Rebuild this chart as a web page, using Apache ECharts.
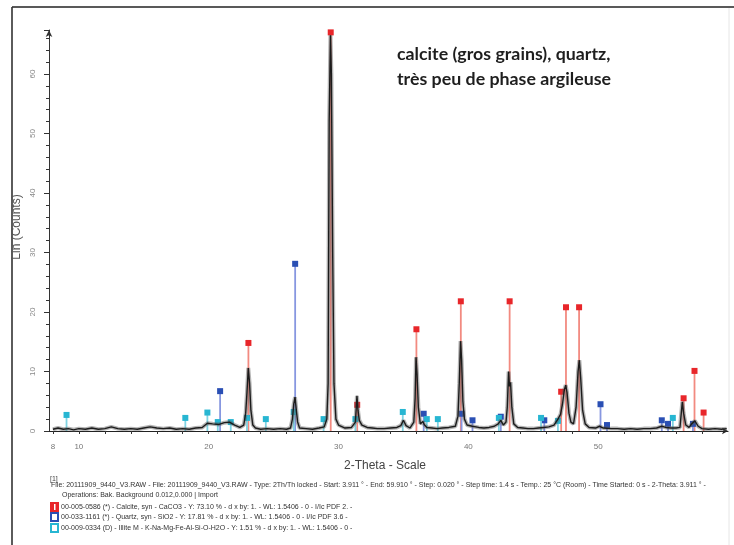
<!DOCTYPE html>
<html>
<head>
<meta charset="utf-8">
<script src="https://cdn.jsdelivr.net/npm/echarts@6.0.0/dist/echarts.min.js"></script>
<style>html,body{margin:0;padding:0;background:#fff}#c{width:734px;height:545px}</style>
</head>
<body>
<div id="c"></div>
<script>
// Measured diffraction pattern (2-Theta, counts)
const patternTheta = [8.0,8.4,8.8,9.2,9.6,10.0,10.5,11.0,11.5,12.0,12.5,13.0,13.5,14.0,14.5,15.0,15.5,16.0,16.5,17.0,17.5,18.0,18.5,19.0,19.5,19.9,20.3,20.8,21.2,21.6,22.0,22.4,22.7,22.85,22.95,23.05,23.15,23.25,23.4,23.6,24.0,24.5,25.0,25.5,26.0,26.3,26.45,26.55,26.65,26.75,26.85,27.0,27.5,28.0,28.5,28.9,29.1,29.2,29.28,29.38,29.45,29.55,29.65,29.8,30.0,30.5,31.0,31.3,31.42,31.5,31.6,31.8,32.2,32.6,33.0,33.5,34.0,34.5,34.8,35.0,35.2,35.5,35.8,35.9,35.97,36.05,36.15,36.3,36.5,36.6,36.8,37.2,37.6,38.0,38.5,39.0,39.2,39.3,39.4,39.48,39.58,39.7,39.9,40.3,40.8,41.2,41.6,42.0,42.3,42.5,42.7,42.9,43.0,43.1,43.17,43.25,43.35,43.5,43.8,44.2,44.6,45.0,45.4,45.8,46.2,46.6,46.9,47.1,47.25,47.4,47.5,47.6,47.75,47.9,48.1,48.3,48.45,48.55,48.65,48.8,49.0,49.3,49.8,50.1,50.4,51.0,51.5,52.0,52.5,53.0,53.5,54.0,54.5,54.9,55.2,55.6,56.0,56.3,56.38,56.48,56.58,56.75,57.0,57.2,57.45,57.55,57.7,58.0,58.5,59.0,59.5,59.9];
const patternCounts = [0.3,0.5,0.3,0.4,0.2,0.4,0.3,0.5,0.3,0.4,0.7,0.4,0.3,0.4,0.3,0.5,0.7,0.5,0.4,0.5,0.3,0.4,0.3,0.5,0.6,1.3,1.2,1.1,1.4,1.5,1.0,0.6,1.0,3.0,6.5,10.6,8.0,3.5,1.0,0.5,0.3,0.4,0.3,0.4,0.3,0.5,2.0,4.5,5.7,3.5,1.5,0.5,0.4,0.3,0.5,0.7,2.0,8.0,52,66.5,60,30,8,2.0,1.0,0.5,0.6,1.5,5.9,3.5,1.8,1.0,0.6,0.5,0.4,0.4,0.5,0.6,0.9,1.8,0.9,0.5,1.5,5.5,12.4,9.5,4.0,1.2,1.6,1.1,0.6,0.5,0.4,0.5,0.6,0.8,2.5,8.0,15.1,12,5.0,2.0,1.0,0.8,0.6,0.5,0.6,0.8,1.2,1.8,1.0,1.5,4.0,10,7.5,8.2,4,1.2,0.6,0.5,0.4,0.4,0.5,0.6,0.7,1.0,2.0,2.8,4.5,7.0,7.7,6.5,3.0,1.5,1.2,4.0,10.0,11.9,9.0,3.5,1.2,0.6,0.5,0.8,0.5,0.4,0.4,0.3,0.4,0.3,0.4,0.4,0.5,0.8,0.6,0.5,0.5,0.6,2.5,4.9,3.0,1.0,0.6,1.2,1.7,1.5,0.8,0.4,0.3,0.4,0.3,0.4];

// Reference phase sticks (2-Theta, height)
const calciteTheta  = [23.06,29.40,31.44,36.00,39.42,43.18,47.15,47.52,48.53,56.58,57.42,58.12];
const calciteHeight = [14.8,67.0,4.4,17.1,21.8,21.8,6.6,20.8,20.8,5.5,10.1,3.1];
const quartzTheta   = [20.88,26.66,36.56,39.48,40.32,42.50,45.85,50.18,50.68,54.90,55.38,57.30];
const quartzHeight  = [6.7,28.1,2.9,2.9,1.8,2.4,1.8,4.5,1.0,1.8,1.2,1.2];
const illiteTheta   = [9.05,18.2,19.9,20.7,21.7,22.95,24.4,26.55,28.85,31.3,34.95,36.8,37.65,42.35,45.6,46.9,55.75];
const illiteHeight  = [2.7,2.2,3.1,1.5,1.5,2.2,2.0,3.2,2.0,2.0,3.2,2.0,2.0,2.2,2.2,1.7,2.2];

const xTickLabels = [8,10,20,30,40,50];
const xMinorTicks = [8,10,12,14,16,18,20,22,24,26,28,30,32,34,36,38,40,42,44,46,48,50,52,54,56,58];
const yTickLabels = [0,10,20,30,40,50,60];

const zip = (a,b) => a.map((v,i)=>[v,b[i]]);

function stickSeries(name, theta, h, markColor, lineColor){
  return {
    type:'custom', name, z:2, clip:false,
    encode:{x:0,y:1},
    data: zip(theta,h),
    renderItem:function(params, api){
      const x=api.value(0), v=api.value(1);
      const p0=api.coord([x,0]), p1=api.coord([x,v]);
      return {type:'group', children:[
        {type:'line', shape:{x1:p0[0],y1:p0[1],x2:p1[0],y2:p1[1]}, style:{stroke:lineColor,lineWidth:1.8}},
        {type:'rect', shape:{x:p1[0]-3,y:p1[1]-3,width:6,height:6}, style:{fill:markColor}}
      ]};
    }
  };
}

const chart = echarts.init(document.getElementById('c'), null, {renderer:'canvas'});
const footFont = '7px "Liberation Sans", Arial, sans-serif';
const patternData = zip(patternTheta,patternCounts);
const option = {
  backgroundColor:'#fff',
  animation:false,
  grid:{left:49,right:6,top:30,bottom:114,outerBoundsMode:'none',containLabel:false},
  xAxis:{
    type:'value', min:7.7, max:60,
    axisLine:{show:true,symbol:['none','arrow'],symbolSize:[5,6],lineStyle:{color:'#222',width:1.2}},
    axisTick:{show:true,customValues:xMinorTicks,length:3,lineStyle:{color:'#333'}},
    axisLabel:{customValues:xTickLabels,fontSize:8,color:'#777',margin:12,fontFamily:'Liberation Sans'},
    splitLine:{show:false}
  },
  yAxis:{
    type:'value', min:0, max:67.4, interval:10,
    axisLine:{show:true,symbol:['none','arrow'],symbolSize:[5,7],lineStyle:{color:'#333',width:1}},
    axisTick:{show:true,length:5,lineStyle:{color:'#333'}},
    minorTick:{show:true,splitNumber:5,length:3,lineStyle:{color:'#333'}},
    axisLabel:{rotate:90,fontSize:8,color:'#888',margin:12,fontFamily:'Liberation Sans',
      formatter:function(v){return yTickLabels.indexOf(v)>=0?String(v):'';}},
    splitLine:{show:false}
  },
  series:[
    stickSeries('Calcite', calciteTheta, calciteHeight, '#e8262a', '#f28a80'),
    stickSeries('Quartz', quartzTheta, quartzHeight, '#2a4fb4', '#8797e0'),
    stickSeries('Illite', illiteTheta, illiteHeight, '#27b6d2', '#7fd3e2'),
    {type:'line', name:'halo', z:4, showSymbol:false, silent:true, data:patternData,
      lineStyle:{color:'rgba(90,90,90,0.45)',width:4}},
    {type:'line', name:'pattern', z:5, showSymbol:false, data:patternData,
      lineStyle:{color:'#1c1c1c',width:1.4}}
  ],
  graphic:[
    {type:'line',shape:{x1:12,y1:7,x2:734,y2:7},style:{stroke:'#222',lineWidth:1.6},silent:true},
    {type:'line',shape:{x1:12,y1:7,x2:12,y2:545},style:{stroke:'#333',lineWidth:1.6},silent:true},
    {type:'line',shape:{x1:729,y1:8,x2:729,y2:545},style:{stroke:'#e6e6e6',lineWidth:1},silent:true},
    {type:'text',left:397,top:42,style:{text:'calcite (gros grains), quartz,\ntrès peu de phase argileuse',
      font:'bold 17.8px Lato, "Open Sans", sans-serif',fill:'#1e1e1e',lineHeight:25}},
    {type:'text',x:17,y:227,rotation:Math.PI/2,style:{text:'Lin (Counts)',font:'12px "Liberation Sans", Arial, sans-serif',fill:'#555',align:'center',verticalAlign:'middle'}},
    {type:'text',x:385,y:466,style:{text:'2-Theta - Scale',font:'12px "Liberation Sans", Arial, sans-serif',fill:'#444',align:'center',verticalAlign:'middle'}},
    {type:'text',x:50,y:479,style:{text:'[1]',font:footFont,fill:'#444',verticalAlign:'middle'}},
    {type:'text',x:51,y:485,style:{text:'File: 20111909_9440_V3.RAW - File: 20111909_9440_V3.RAW - Type: 2Th/Th locked - Start: 3.911 ° - End: 59.910 ° - Step: 0.020 ° - Step time: 1.4 s - Temp.: 25 °C (Room) - Time Started: 0 s - 2-Theta: 3.911 ° -',font:footFont,fill:'#333',verticalAlign:'middle'}},
    {type:'text',x:62,y:495,style:{text:'Operations: Bak. Background 0.012,0.000 | Import',font:footFont,fill:'#333',verticalAlign:'middle'}},
    {type:'rect',shape:{x:50,y:502,width:9,height:10},style:{fill:'#e8262a'}},
    {type:'rect',shape:{x:54,y:504,width:1.5,height:6},style:{fill:'#fff'}},
    {type:'text',x:61,y:507,style:{text:'00-005-0586 (*) - Calcite, syn - CaCO3 - Y: 73.10 % - d x by: 1. - WL: 1.5406 - 0 - I/Ic PDF 2. -',font:footFont,fill:'#333',verticalAlign:'middle'}},
    {type:'rect',shape:{x:50,y:512,width:9,height:10},style:{fill:'#2a4fb4'}},
    {type:'rect',shape:{x:52,y:514,width:5,height:6},style:{fill:'#fff'}},
    {type:'text',x:61,y:517,style:{text:'00-033-1161 (*) - Quartz, syn - SiO2 - Y: 17.81 % - d x by: 1. - WL: 1.5406 - 0 - I/Ic PDF 3.6 -',font:footFont,fill:'#333',verticalAlign:'middle'}},
    {type:'rect',shape:{x:50,y:523,width:9,height:10},style:{fill:'#27b6d2'}},
    {type:'rect',shape:{x:52,y:525,width:5,height:6},style:{fill:'#fff'}},
    {type:'text',x:61,y:528,style:{text:'00-009-0334 (D) - Illite M - K-Na-Mg-Fe-Al-Si-O-H2O - Y: 1.51 % - d x by: 1. - WL: 1.5406 - 0 -',font:footFont,fill:'#333',verticalAlign:'middle'}}
  ]
};
chart.setOption(option);
</script>
</body>
</html>
